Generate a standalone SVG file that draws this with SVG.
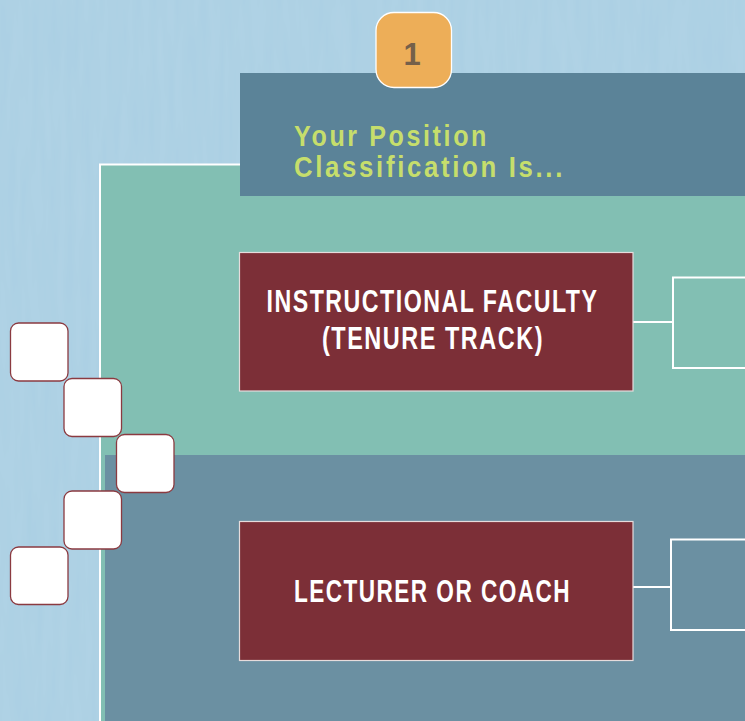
<svg xmlns="http://www.w3.org/2000/svg" width="745" height="721" viewBox="0 0 745 721">
  <defs>
    <filter id="tex" x="0" y="0" width="100%" height="100%">
      <feTurbulence type="fractalNoise" baseFrequency="0.12 0.012" numOctaves="2" seed="4" result="n"/>
      <feColorMatrix in="n" type="matrix" values="0 0 0 0 1  0 0 0 0 1  0 0 0 0 1  0 0 0 0.09 0"/>
    </filter>
  </defs>
  <style>
    .head { font-family: "Liberation Sans", Arial, sans-serif; font-weight: bold; font-size: 29px; fill: #c6de6c; }
    .lbl { font-family: "Liberation Sans", Arial, sans-serif; font-weight: bold; font-size: 31px; fill: #ffffff; }
    .num { font-family: "Liberation Sans", Arial, sans-serif; font-weight: bold; font-size: 31px; fill: #75604a; }
    .role { fill: #7c2f37; stroke: #e6dcdc; stroke-width: 1.2; }
    .out { fill: none; stroke: #ffffff; stroke-width: 2; }
    .sq { fill: #ffffff; stroke: #8b3a40; stroke-width: 1.3; }
    .conn { stroke: #ffffff; stroke-width: 2; fill: none; }
  </style>

  <!-- background -->
  <rect x="0" y="0" width="745" height="721" fill="#aacfe3"/>
  <rect x="0" y="0" width="745" height="721" filter="url(#tex)"/>

  <!-- panels -->
  <g id="panel-instructional">
    <rect x="100" y="164.5" width="660" height="570" fill="#82bfb3" stroke="#ffffff" stroke-width="2"/>
  </g>
  <g id="panel-lecturer">
    <rect x="105" y="455" width="650" height="280" fill="#6b90a2"/>
  </g>

  <!-- header -->
  <g id="header">
    <rect x="240" y="73" width="510" height="123" fill="#5b8398"/>
    <text class="head" x="294" y="146" textLength="195" lengthAdjust="spacingAndGlyphs" letter-spacing="3">Your Position</text>
    <text class="head" x="294" y="177" textLength="271" lengthAdjust="spacingAndGlyphs" letter-spacing="3">Classification Is...</text>
  </g>

  <!-- step badge -->
  <g id="badge-1">
    <rect x="376" y="12.5" width="75.5" height="75" rx="18" ry="18" fill="#edae58" stroke="#ffffff" stroke-width="1.3"/>
    <text class="num" x="412" y="65" text-anchor="middle">1</text>
  </g>

  <!-- connectors -->
  <g id="connectors">
    <line class="conn" x1="633" y1="322" x2="672" y2="322"/>
    <line class="conn" x1="633" y1="587" x2="670" y2="587"/>
  </g>

  <!-- role nodes -->
  <g id="node-instructional-faculty">
    <rect class="role" x="239.5" y="252.5" width="393.5" height="138.5"/>
    <text class="lbl" x="266.5" y="311.5" textLength="332" lengthAdjust="spacingAndGlyphs" letter-spacing="2">INSTRUCTIONAL FACULTY</text>
    <text class="lbl" x="322" y="349" textLength="222" lengthAdjust="spacingAndGlyphs" letter-spacing="2">(TENURE TRACK)</text>
  </g>
  <g id="node-lecturer-coach">
    <rect class="role" x="239.5" y="521.5" width="393.5" height="139"/>
    <text class="lbl" x="294" y="601.5" textLength="277" lengthAdjust="spacingAndGlyphs" letter-spacing="2">LECTURER OR COACH</text>
  </g>

  <!-- right-side outline boxes -->
  <g id="node-instructional-next">
    <rect class="out" x="673" y="277.5" width="90" height="90.5"/>
  </g>
  <g id="node-lecturer-next">
    <rect class="out" x="671" y="539.5" width="90" height="90.5"/>
  </g>

  <!-- decorative squares -->
  <g id="squares">
    <rect class="sq" x="10.5" y="323" width="57.5" height="58" rx="8" ry="8"/>
    <rect class="sq" x="64" y="378.5" width="57.5" height="58" rx="8" ry="8"/>
    <rect class="sq" x="116.5" y="434.5" width="57.5" height="58" rx="8" ry="8"/>
    <rect class="sq" x="64" y="491" width="57.5" height="58" rx="8" ry="8"/>
    <rect class="sq" x="10.5" y="547" width="57.5" height="57.5" rx="8" ry="8"/>
  </g>
</svg>
